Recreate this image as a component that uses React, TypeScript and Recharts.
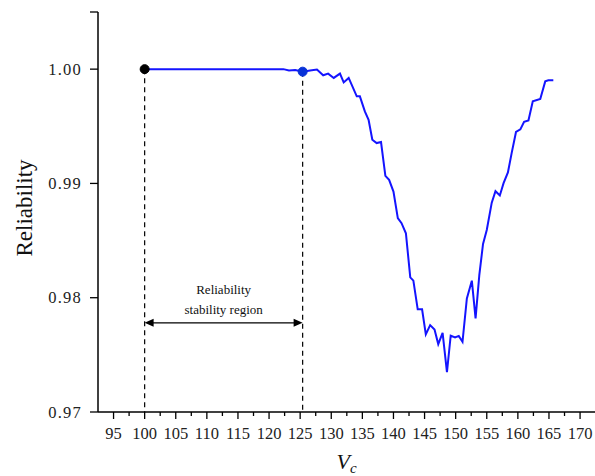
import React from 'react'
import { LineChart, Line, XAxis, YAxis, ReferenceLine, ReferenceDot } from 'recharts'

// Vc values (x) and reliability (y)
const vc = [
  100, 122.3, 123.2, 124.2, 125.4, 126.6, 127.7, 128.7, 129.5, 130.4,
  131.4, 132.0, 132.8, 134.1, 134.6, 135.4, 136.0, 136.6, 137.3, 138.0,
  138.7, 139.3, 140.0, 140.7, 141.3, 142.0, 142.7, 143.2, 143.9, 144.6,
  145.2, 145.9, 146.6, 147.2, 147.9, 148.6, 149.2, 149.9, 150.5, 151.1,
  151.8, 152.6, 153.2, 153.8, 154.4, 155.0, 155.8, 156.4, 157.1, 157.7,
  158.4, 159.0, 159.7, 160.4, 161.0, 161.7, 162.4, 163.6, 164.4, 164.9,
  165.7,
]
const reliability = [
  1.0, 1.0, 0.99989, 0.99993, 0.99978, 0.99989, 0.99996, 0.99946, 0.99961, 0.99923,
  0.99961, 0.99884, 0.99923, 0.99762, 0.99762, 0.9963, 0.99557, 0.99382, 0.99353, 0.99362,
  0.99066, 0.99031, 0.98929, 0.98696, 0.98652, 0.98564, 0.98178, 0.98149, 0.97898, 0.97898,
  0.97679, 0.9776, 0.97722, 0.97594, 0.97693, 0.97348, 0.97668, 0.97652, 0.97666, 0.97614,
  0.97994, 0.98149, 0.97819, 0.98198, 0.9847, 0.98593, 0.98832, 0.98932, 0.98895, 0.99002,
  0.99097, 0.99265, 0.9945, 0.99473, 0.9954, 0.99551, 0.99718, 0.99739, 0.99893, 0.99902,
  0.99902,
]

const xMajorTicks = [95, 100, 105, 110, 115, 120, 125, 130, 135, 140, 145, 150, 155, 160, 165, 170]
const xMinorTicks = [97.5, 102.5, 107.5, 112.5, 117.5, 122.5, 127.5, 132.5, 137.5, 142.5, 147.5, 152.5, 157.5, 162.5, 167.5]
const yTicks = [0.97, 0.98, 0.99, 1.0, 1.005]
const yLabeled = [0.97, 0.98, 0.99, 1.0]

// stability region bounds and marked points
const regionStart = { x: 100, y: 1.0 }
const regionEnd = { x: 125.4, y: 0.99978 }
const arrowLevel = 0.9778

const data = vc.map((x, i) => ({ vc: x, r: reliability[i] }))

const FONT = '"Liberation Serif", "Times New Roman", serif'

function XTick(props: any) {
  const { x, y, payload } = props
  const major = xMajorTicks.includes(payload.value)
  return (
    <g>
      <line x1={x} y1={y} x2={x} y2={y + (major ? 7 : 4)} stroke="#000" strokeWidth={1.3} />
      {major && (
        <text x={x} y={y + 27} textAnchor="middle" fontSize={16.5} fontFamily={FONT} fill="#222">
          {payload.value}
        </text>
      )}
    </g>
  )
}

function YTick(props: any) {
  const { x, y, payload } = props
  const labeled = yLabeled.includes(payload.value)
  return (
    <g>
      <line x1={x} y1={y} x2={x - 8} y2={y} stroke="#000" strokeWidth={1.3} />
      {labeled && (
        <text x={x - 16} y={y} dy="0.35em" textAnchor="end" fontSize={16.5} fontFamily={FONT} fill="#222" letterSpacing={1.2}>
          {payload.value.toFixed(2)}
        </text>
      )}
    </g>
  )
}

function RegionArrow(props: any) {
  const { x1, y1, x2 } = props
  const cx = (x1 + x2) / 2
  return (
    <g>
      <line x1={x1 + 6} y1={y1} x2={x2 - 6} y2={y1} stroke="#000" strokeWidth={1.3} />
      <polygon points={`${x1},${y1} ${x1 + 9},${y1 - 4} ${x1 + 9},${y1 + 4}`} fill="#000" />
      <polygon points={`${x2},${y1} ${x2 - 9},${y1 - 4} ${x2 - 9},${y1 + 4}`} fill="#000" />
      <text x={cx} y={y1 - 29} textAnchor="middle" fontSize={13} fontFamily={FONT} fill="#111">
        Reliability
      </text>
      <text x={cx} y={y1 - 9} textAnchor="middle" fontSize={13} fontFamily={FONT} fill="#111">
        stability region
      </text>
    </g>
  )
}

function YLabel(props: any) {
  const { viewBox } = props
  const cy = viewBox.y + viewBox.height / 2 - 4
  return (
    <text x={24} y={cy} transform={`rotate(-90, 24, ${cy})`} textAnchor="middle" dominantBaseline="central"
      fontSize={23} fontFamily={FONT} fill="#111">
      Reliability
    </text>
  )
}

function XLabel(props: any) {
  const { viewBox } = props
  const cx = viewBox.x + viewBox.width / 2
  return (
    <text x={cx} y={viewBox.y + 57} textAnchor="middle" fontSize={22} fontFamily={FONT} fontStyle="italic" fill="#111">
      V<tspan fontSize={15} dy={4}>c</tspan>
    </text>
  )
}

export default function App() {
  return (
    <div style={{ position: 'absolute', left: 0, top: 0, width: 595, height: 476, background: '#fff' }}>
      <LineChart width={595} height={476} data={data} margin={{ top: 12, right: 0, bottom: 0, left: 0 }}>
        <XAxis
          dataKey="vc"
          type="number"
          domain={[92.5, 172.4]}
          ticks={[...xMajorTicks, ...xMinorTicks].sort((a, b) => a - b)}
          interval={0}
          height={64}
          tickSize={0}
          tickMargin={0}
          tickLine={false}
          tick={<XTick />}
          axisLine={{ stroke: '#000', strokeWidth: 1.5 }}
          allowDataOverflow
          label={{ content: <XLabel /> }}
        />
        <YAxis
          type="number"
          domain={[0.97, 1.005]}
          ticks={yTicks}
          interval={0}
          width={98}
          tickSize={0}
          tickMargin={0}
          tickLine={false}
          tick={<YTick />}
          axisLine={{ stroke: '#000', strokeWidth: 1.5 }}
          allowDataOverflow
          label={{ content: <YLabel /> }}
        />
        <ReferenceLine
          segment={[{ x: regionStart.x, y: regionStart.y }, { x: regionStart.x, y: 0.97 }]}
          stroke="#000"
          strokeWidth={1.2}
          strokeDasharray="5 4"
        />
        <ReferenceLine
          segment={[{ x: regionEnd.x, y: regionEnd.y }, { x: regionEnd.x, y: 0.97 }]}
          stroke="#000"
          strokeWidth={1.2}
          strokeDasharray="5 4"
        />
        <ReferenceLine
          segment={[{ x: regionStart.x, y: arrowLevel }, { x: regionEnd.x, y: arrowLevel }]}
          shape={(p: any) => <RegionArrow {...p} />}
        />
        <Line
          type="linear"
          dataKey="r"
          stroke="#1414ff"
          strokeWidth={2}
          dot={false}
          isAnimationActive={false}
        />
        <ReferenceDot x={regionStart.x} y={regionStart.y} r={4.5} fill="#000" stroke="#000" strokeWidth={1} />
        <ReferenceDot x={regionEnd.x} y={regionEnd.y} r={4.5} fill="#0832d8" stroke="#0832d8" strokeWidth={1} />
      </LineChart>
    </div>
  )
}
